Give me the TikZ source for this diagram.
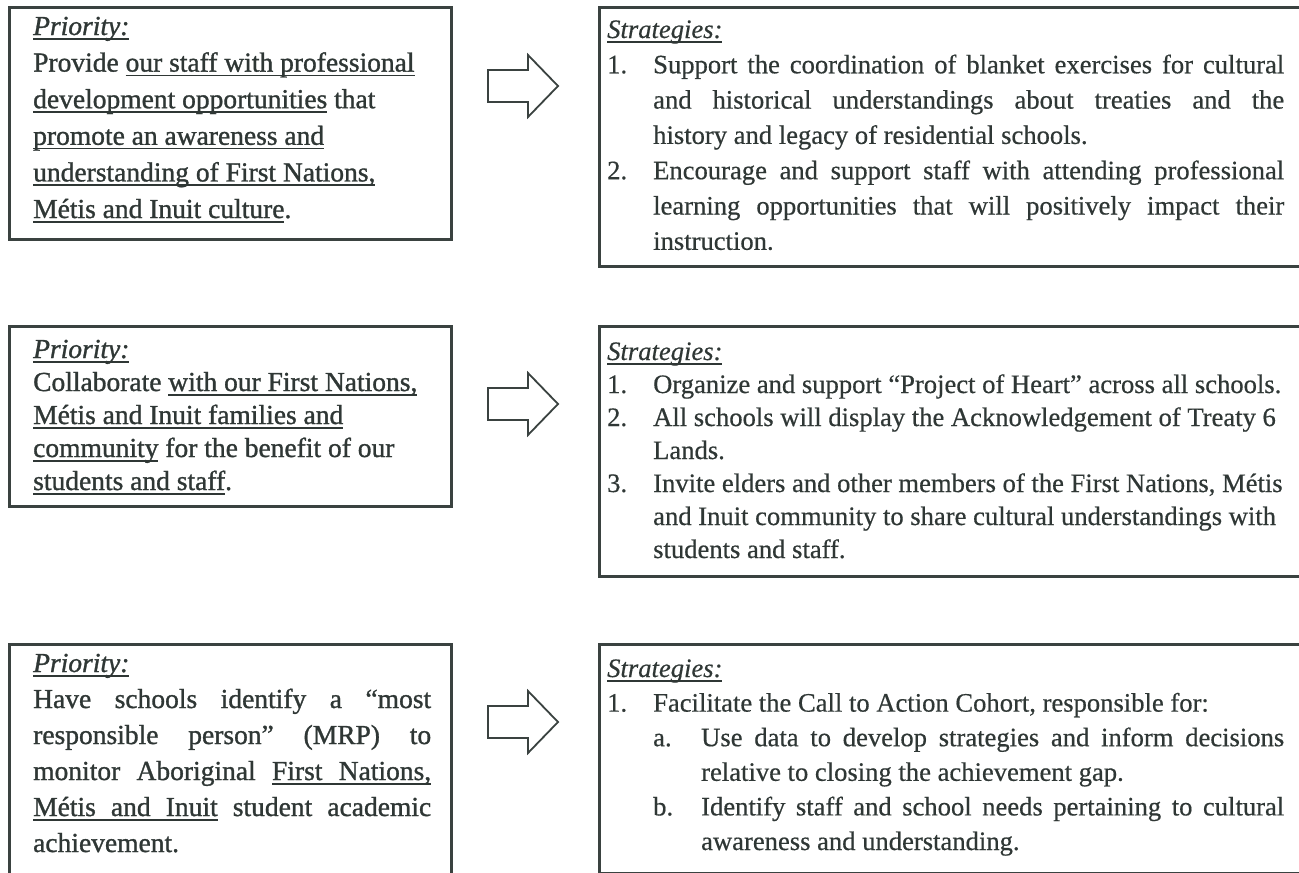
\documentclass[tikz,border=0pt]{standalone}
\usepackage{fontspec}
\setmainfont{Liberation Serif}[FakeBold=0.5]
\newfontfamily\heavyserif{Liberation Serif}[FakeBold=1.1]
\usetikzlibrary{calc}
\definecolor{ink}{HTML}{2F3735}
\definecolor{frame}{HTML}{3A4240}
\newlength{\ulwd}
\newcommand{\myul}[1]{\leavevmode\settowidth{\ulwd}{#1}\rlap{\vrule width\ulwd height -3pt depth 4.5pt}#1}
\newcommand{\ulsp}{\leaders\vrule height -3pt depth 4.5pt\hskip\fontdimen2\font plus\fontdimen3\font minus\fontdimen4\font\relax}
\newcommand{\itm}[1]{\hangindent=46pt\hangafter=1\noindent\makebox[46pt][l]{#1}\ignorespaces}
\newcommand{\sitm}[1]{\hangindent=94pt\hangafter=1\noindent\hspace*{46pt}\makebox[48pt][l]{#1}\ignorespaces}
\tikzset{
  box/.style={draw=frame, line width=2.6pt, anchor=north west, inner sep=0pt},
  txt/.style={anchor=base west, inner sep=0pt, text=ink},
  blockarrow/.pic={\draw[draw=frame, fill=white, line width=1.8pt, line join=miter]
    (0,-16) -- (40,-16) -- (40,-31) -- (70,0) -- (40,31) -- (40,16) -- (0,16) -- cycle;}
}
\begin{document}
\begin{tikzpicture}[x=1pt,y=-1pt]
\useasboundingbox (0,0) rectangle (1299,873);
\fill[white] (0,0) rectangle (1299,873);
% boxes
\node[box, minimum width=442pt, minimum height=232pt] (L1) at (8,6) {};
\node[box, minimum width=730pt, minimum height=259pt] (R1) at (598,6) {};
\node[box, minimum width=442pt, minimum height=180pt] (L2) at (8,325) {};
\node[box, minimum width=730pt, minimum height=250pt] (R2) at (598,325) {};
\node[box, minimum width=442pt, minimum height=260pt] (L3) at (8,643) {};
\node[box, minimum width=730pt, minimum height=229pt] (R3) at (598,643) {};
% arrows
\pic at (488,86) {blockarrow};
\pic at (488,404) {blockarrow};
\pic at (488,722) {blockarrow};
% texts
\node[txt] (L1t) at (33,35) {\parbox[t]{400pt}{\heavyserif\fontsize{27.5pt}{36.6pt}\selectfont\raggedright
\myul{\textit{Priority:}}\\
Provide \myul{our staff with professional}\\
\myul{development opportunities} that\\
\myul{promote an awareness and}\\
\myul{understanding of First Nations,}\\
\myul{Métis and Inuit culture}.}};
\node[txt] (R1t) at (607,38) {\parbox[t]{677pt}{\fontsize{26.6pt}{35.3pt}\selectfont
\noindent\myul{\textit{Strategies:}}\par
\itm{1.}Support the coordination of blanket exercises for cultural\linebreak
and historical understandings about treaties and the\linebreak
history and legacy of residential schools.\par
\itm{2.}Encourage and support staff with attending professional\linebreak
learning opportunities that will positively impact their\linebreak
instruction.\par}};
\node[txt] (L2t) at (33,358) {\parbox[t]{400pt}{\heavyserif\fontsize{27.5pt}{33pt}\selectfont\raggedright
\myul{\textit{Priority:}}\\
Collaborate \myul{with our First Nations,}\\
\myul{Métis and Inuit families and}\\
\myul{community} for the benefit of our\\
\myul{students and staff}.}};
\node[txt] (R2t) at (607,360) {\parbox[t]{677pt}{\fontsize{26.6pt}{33pt}\selectfont\raggedright
\noindent\myul{\textit{Strategies:}}\par
\itm{1.}Organize and support “Project of Heart” across all schools.\par
\itm{2.}All schools will display the Acknowledgement of Treaty 6\newline
Lands.\par
\itm{3.}Invite elders and other members of the First Nations, Métis\newline
and Inuit community to share cultural understandings with\newline
students and staff.\par}};
\node[txt] (L3t) at (33,672) {\parbox[t]{398pt}{\heavyserif\fontsize{27.5pt}{36pt}\selectfont
\noindent\myul{\textit{Priority:}}\\
Have schools identify a “most\linebreak
responsible person” (MRP) to\linebreak
monitor Aboriginal \myul{First}\ulsp\myul{Nations,}\linebreak
\myul{Métis}\ulsp\myul{and}\ulsp\myul{Inuit} student academic\linebreak
achievement.\par}};
\node[txt] (R3t) at (607,677) {\parbox[t]{677pt}{\fontsize{26.6pt}{34.6pt}\selectfont
\noindent\myul{\textit{Strategies:}}\par
\itm{1.}Facilitate the Call to Action Cohort, responsible for:\par
\sitm{a.}Use data to develop strategies and inform decisions\linebreak
relative to closing the achievement gap.\par
\sitm{b.}Identify staff and school needs pertaining to cultural\linebreak
awareness and understanding.\par}};
\end{tikzpicture}
\end{document}
